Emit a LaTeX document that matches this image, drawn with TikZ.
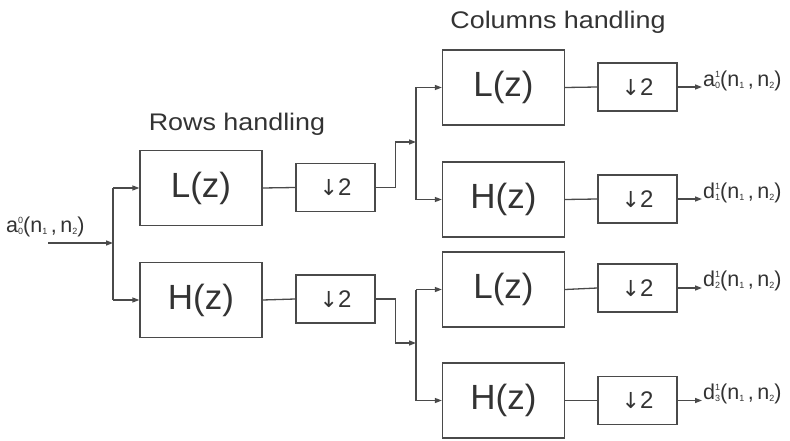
\documentclass[tikz,border=0pt]{standalone}
\usepackage{fontspec}
\setmainfont{Liberation Sans}
\newfontfamily\dejavu{DejaVu Sans}
\usetikzlibrary{arrows.meta}
\definecolor{ln}{HTML}{4A4A4A}
\definecolor{tx}{HTML}{333333}
\newcommand{\tinyfs}{\fontsize{9}{9}\selectfont}
\newcommand{\sigl}[3]{#1\rlap{\raisebox{0.40em}{\tinyfs #3}}\raisebox{-0.10em}{\tinyfs #2}(n\raisebox{-0.10em}{\tinyfs 1}\,,\,n\raisebox{-0.10em}{\tinyfs 2})}
\begin{document}
\begin{tikzpicture}[x=1pt,y=-1pt,
  filt/.style={draw=ln, line width=1.3pt, minimum width=122pt, minimum height=75pt, inner sep=0pt, text=tx, font=\fontsize{35}{40}\selectfont},
  dsbox/.style={draw=ln, line width=1.3pt, minimum width=79pt, minimum height=48pt, inner sep=0pt, text=tx, font=\fontsize{24}{28}\selectfont},
  wire/.style={draw=ln, line width=1.3pt},
  arr/.style={wire, -{Triangle[length=7pt,width=5pt]}},
  sig/.style={text=tx, font=\fontsize{21.5}{24}\selectfont, anchor=west, inner sep=0pt},
  ttl/.style={text=tx, font=\fontsize{24}{28}\selectfont, anchor=base, inner sep=0pt}]
\useasboundingbox (0,0) rectangle (790,441);

% titles
\node[ttl] (trows) at (237,131) {\scalebox{1.12}[1]{Rows handling}};
\node[ttl] (tcols) at (558,29) {\scalebox{1.12}[1]{Columns handling}};

% row stage
\node[filt] (RL) at (201,188) {L(z)};
\node[filt] (RH) at (201,300) {H(z)};
\newcommand{\dn}{{\dejavu\fontsize{22}{24}\selectfont ↓}\hspace{0pt}2}
\node[dsbox] (RD1) at (335.5,187.5) {\dn};
\node[dsbox] (RD2) at (335.5,299) {\dn};

% column stage
\node[filt] (CL1) at (503.5,87.5) {L(z)};
\node[filt] (CH1) at (503.5,199.5) {H(z)};
\node[filt] (CL2) at (503.5,289.5) {L(z)};
\node[filt] (CH2) at (503.5,400.5) {H(z)};
\node[dsbox] (CD1) at (637.5,87) {\dn};
\node[dsbox] (CD2) at (637.5,199) {\dn};
\node[dsbox] (CD3) at (637.5,288) {\dn};
\node[dsbox] (CD4) at (637.5,400.5) {\dn};

% input
\coordinate (in) at (48,243);
\coordinate (J0) at (113,243);
\node[sig] (lin) at (6,227) {\sigl{a}{0}{0}};
\draw[arr] (in) -- (J0);
\draw[wire] (J0 |- RL.west) -- (J0 |- RH.west);
\draw[arr] (J0 |- RL.west) -- (RL.west);
\draw[arr] (J0 |- RH.west) -- (RH.west);

% rows to downsamplers
\draw[wire] (RL.east) -- (RD1.west);
\draw[wire] (RH.east) -- (RD2.west);

% to column stage
\coordinate (J1) at (416,142);
\coordinate (J2) at (416,343);
\draw[arr] (RD1.east) -- ++(20,0) |- (J1);
\draw[arr] (RD2.east) -- ++(20,0) |- (J2);
\draw[wire] (J1 |- CL1.west) -- (J1 |- CH1.west);
\draw[wire] (J2 |- CL2.west) -- (J2 |- CH2.west);
\draw[arr] (J1 |- CL1.west) -- (CL1.west);
\draw[arr] (J1 |- CH1.west) -- (CH1.west);
\draw[arr] (J2 |- CL2.west) -- (CL2.west);
\draw[arr] (J2 |- CH2.west) -- (CH2.west);

\draw[wire] (CL1.east) -- (CD1.west);
\draw[wire] (CH1.east) -- (CD2.west);
\draw[wire] (CL2.east) -- (CD3.west);
\draw[wire] (CH2.east) -- (CD4.west);

% outputs
\coordinate (o1) at (702,87);
\coordinate (o2) at (702,199);
\coordinate (o3) at (702,288);
\coordinate (o4) at (702,400.5);
\draw[arr] (CD1.east) -- (o1);
\draw[arr] (CD2.east) -- (o2);
\draw[arr] (CD3.east) -- (o3);
\draw[arr] (CD4.east) -- (o4);
\node[sig] (l1) at (703,81) {\sigl{a}{0}{1}};
\node[sig] (l2) at (703,193) {\sigl{d}{1}{1}};
\node[sig] (l3) at (703,281) {\sigl{d}{2}{1}};
\node[sig] (l4) at (703,394) {\sigl{d}{3}{1}};
\end{tikzpicture}
\end{document}
